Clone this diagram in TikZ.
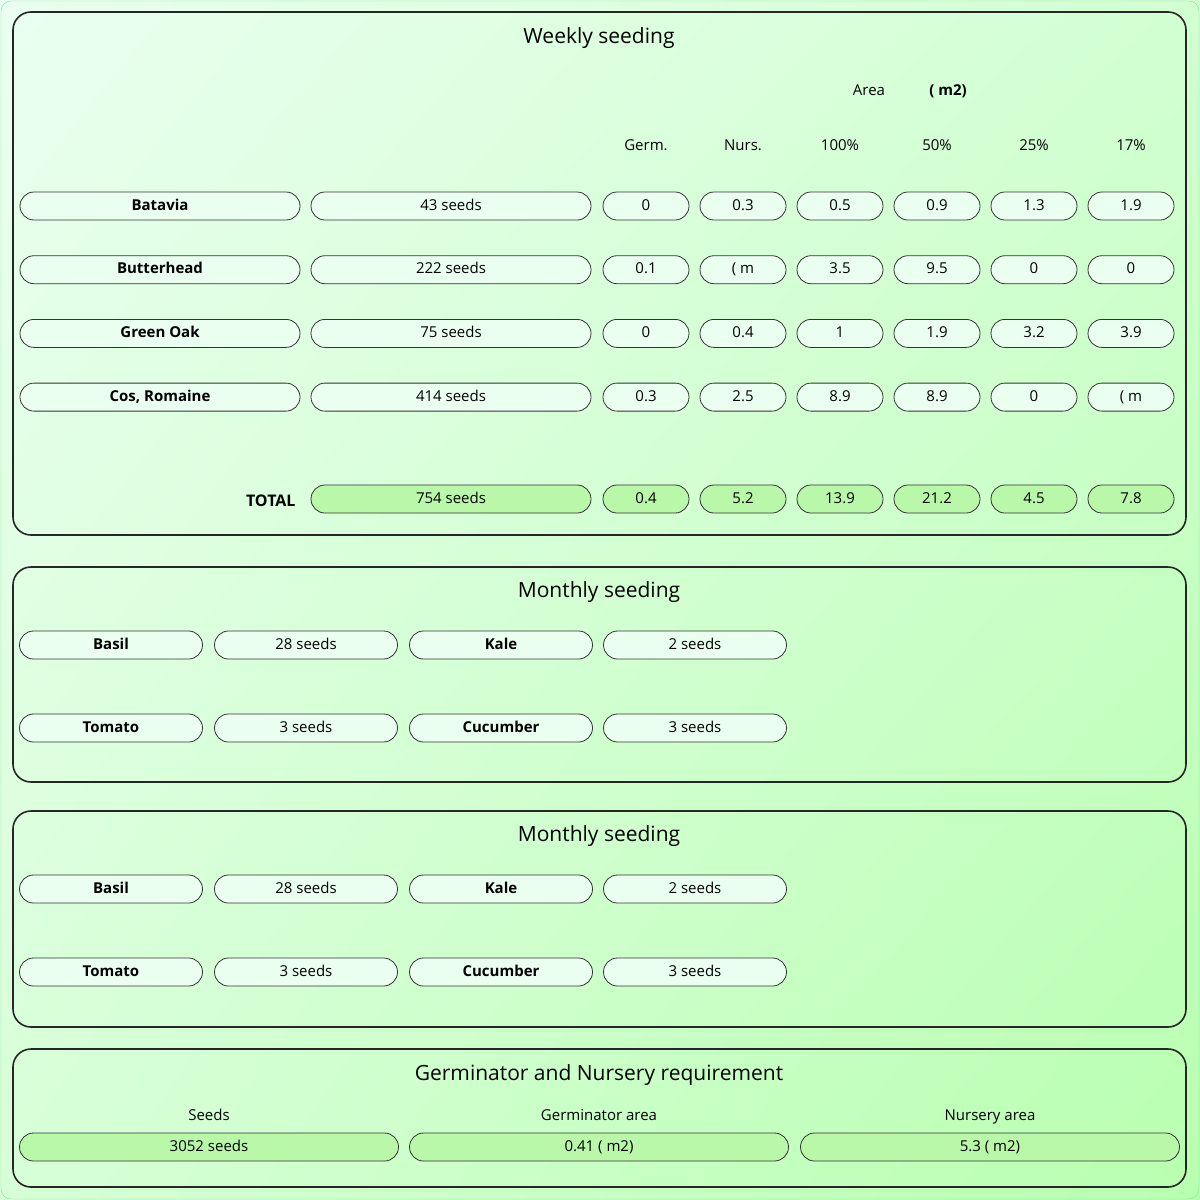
\documentclass[tikz,border=0pt]{standalone}
\usepackage{fontspec}
\setmainfont{Open Sans}
\usetikzlibrary{positioning,shadings}

\definecolor{pillfill}{HTML}{EAFFF0}
\definecolor{totfill}{HTML}{B8F8A8}
\definecolor{edgegray}{HTML}{333333}
\definecolor{outergreen}{HTML}{80E090}
\definecolor{bgul}{HTML}{EAFFF0}
\definecolor{bgur}{HTML}{D2FFD2}
\definecolor{bgll}{HTML}{D7FFD7}
\definecolor{bglr}{HTML}{B8FFB0}

\tikzset{
  pill/.style={draw=edgegray,line width=0.8pt,rounded corners=14pt,fill=pillfill,
    minimum height=28pt,inner sep=0pt,text height=11pt,text depth=3pt,
    font=\fontsize{15}{17}\selectfont},
  tot/.style={pill,fill=totfill},
  panel/.style={draw=black!85,line width=1.6pt,rounded corners=18pt},
  title/.style={font=\fontsize{21}{25}\selectfont},
  head/.style={font=\fontsize{15}{17}\selectfont,text height=11pt,text depth=3pt},
}

\begin{document}
\begin{tikzpicture}[x=1pt,y=-1pt]
  \useasboundingbox (0,0) rectangle (1200,1200);
  \shade[upper left=bgul,upper right=bgur,lower left=bgll,lower right=bglr]
    (0,0) rectangle (1200,1200);
  \draw[outergreen,rounded corners=10pt] (1,1) rectangle (1199,1199);

  % panels
  \draw[panel] (13,12) rectangle (1186,535);
  \draw[panel] (13,567) rectangle (1186,782);
  \draw[panel] (13,811) rectangle (1186,1027);
  \draw[panel] (13,1049) rectangle (1186,1187);

  % weekly seeding
  \node[title] (wtitle) at (599,38) {Weekly seeding};
  \node[head] (area) at (869,91) {Area};
  \node[head,font=\fontsize{15}{17}\selectfont\bfseries] (unit) at (948,91) {( m2)};
  \foreach \h/\x in {Germ./646,Nurs./743,100\%/840,50\%/937,25\%/1034,17\%/1131}
    \node[head] at (\x,146) {\h};

  \foreach \nm/\sd/\a/\b/\c/\d/\e/\f [count=\i] in {
      Batavia/43/0/0.3/0.5/0.9/1.3/1.9,
      Butterhead/222/0.1/( m/3.5/9.5/0/0,
      Green Oak/75/0/0.4/1/1.9/3.2/3.9,
      {Cos, Romaine}/414/0.3/2.5/8.9/8.9/0/( m} {
    \pgfmathsetmacro\yy{206+(\i-1)*63.7}
    \node[pill,minimum width=280pt,font=\fontsize{15}{17}\selectfont\bfseries] (name\i) at (160,\yy) {\nm};
    \node[pill,minimum width=280pt] (seed\i) at (451,\yy) {\sd\ seeds};
    \foreach \v/\x in {\a/646,\b/743,\c/840,\d/937,\e/1034,\f/1131}
      \node[pill,minimum width=86pt] at (\x,\yy) {\v};
  }

  \node[anchor=east,font=\fontsize{16}{18}\selectfont\bfseries] (total) at (299,501) {TOTAL};
  \node[tot,minimum width=280pt] (seedtot) at (451,499) {754 seeds};
  \foreach \v/\x in {0.4/646,5.2/743,13.9/840,21.2/937,4.5/1034,7.8/1131}
    \node[tot,minimum width=86pt] at (\x,499) {\v};

  % monthly seeding
  \foreach \top/\k in {567/a,811/b} {
    \node[title] (mtitle\k) at (599,\top+25) {Monthly seeding};
    \foreach \p/\q/\r/\s [count=\j] in {Basil/28/Kale/2,Tomato/3/Cucumber/3} {
      \pgfmathsetmacro\yy{\top+78+(\j-1)*83}
      \node[pill,minimum width=183pt,font=\fontsize{15}{17}\selectfont\bfseries] (m\k\j a) at (111,\yy) {\p};
      \node[pill,minimum width=183pt] (m\k\j b) at (306,\yy) {\q\ seeds};
      \node[pill,minimum width=183pt,font=\fontsize{15}{17}\selectfont\bfseries] (m\k\j c) at (501,\yy) {\r};
      \node[pill,minimum width=183pt] (m\k\j d) at (695,\yy) {\s\ seeds};
    }
  }

  % requirement
  \node[title] (rtitle) at (599,1075) {Germinator and Nursery requirement};
  \foreach \h/\v/\x [count=\i] in {Seeds/3052 seeds/209,Germinator area/0.41 ( m2)/599,Nursery area/5.3 ( m2)/990} {
    \node[head] (rh\i) at (\x,1116) {\h};
    \node[tot,minimum width=379pt] (rv\i) at (\x,1147) {\v};
  }
\end{tikzpicture}
\end{document}
